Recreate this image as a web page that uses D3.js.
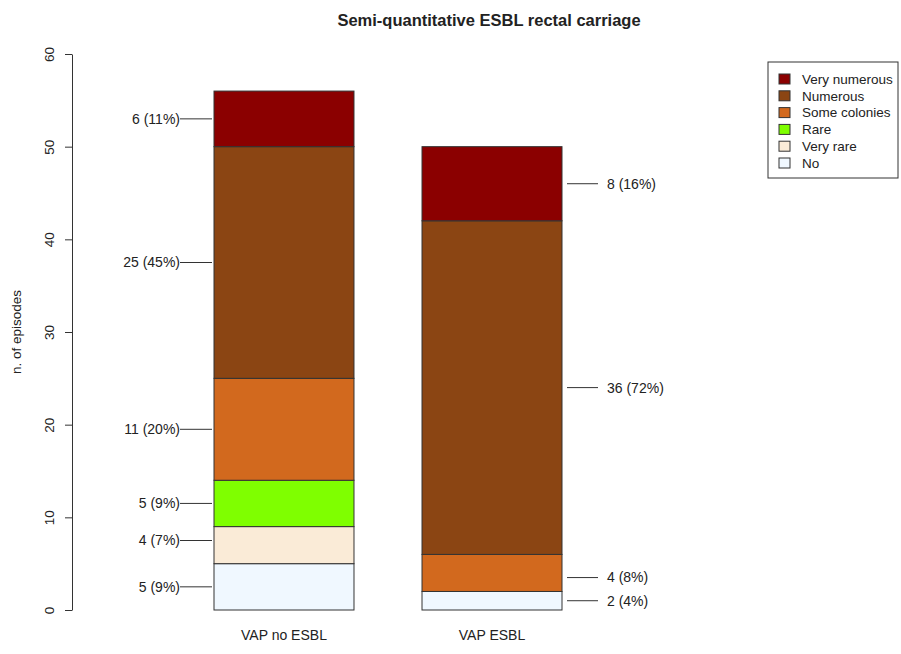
<!DOCTYPE html>
<html>
<head>
<meta charset="utf-8">
<script src="https://cdn.jsdelivr.net/npm/d3@7"></script>
<style>
  body { margin: 0; background: #fff; }
  svg text { font-family: "Liberation Sans", Arial, sans-serif; fill: #222; }
</style>
</head>
<body>
<div id="chart"></div>
<script>
// data
const groups = ["VAP no ESBL", "VAP ESBL"];
const levels = ["No", "Very rare", "Rare", "Some colonies", "Numerous", "Very numerous"];
const colors = ["#F0F8FF", "#FAEBD7", "#7FFF00", "#D2691E", "#8B4513", "#8B0000"];
const countsNoEsbl = [5, 4, 5, 11, 25, 6];
const countsEsbl = [2, 0, 0, 4, 36, 8];
const labelsNoEsbl = ["5 (9%)", "4 (7%)", "5 (9%)", "11 (20%)", "25 (45%)", "6 (11%)"];
const labelsEsbl = ["2 (4%)", "", "", "4 (8%)", "36 (72%)", "8 (16%)"];
// label anchor heights (n. of episodes), nudged where segments are thin
const labelAtNoEsbl = [2.5, 7.5, 11.5, 19.5, 37.5, 53];
const labelAtEsbl = [1, null, null, 3.5, 24, 46];
const yTicks = [0, 10, 20, 30, 40, 50, 60];

const W = 901, H = 654;
const svg = d3.select("#chart").append("svg").attr("width", W).attr("height", H);

const y = d3.scaleLinear().domain([0, 60]).range([610, 54]);
const x = d3.scaleBand().domain(groups).range([214, 562]).paddingInner(0.327).paddingOuter(0);

// title
svg.append("text")
    .attr("x", 489).attr("y", 26)
    .attr("text-anchor", "middle")
    .style("font-weight", "bold").style("font-size", "16.5px")
    .text("Semi-quantitative ESBL rectal carriage");

// y axis, R style
const yAxis = svg.append("g").attr("transform", "translate(72,0)")
    .call(d3.axisLeft(y).tickValues(yTicks).tickSize(7).tickSizeOuter(0).tickPadding(0));
yAxis.select(".domain").attr("stroke", "#333");
yAxis.selectAll(".tick line").attr("stroke", "#333");
yAxis.selectAll(".tick text").remove();
yAxis.selectAll(".tick").append("text")
    .attr("transform", "translate(-23,0) rotate(-90)")
    .attr("text-anchor", "middle")
    .attr("dy", "0.35em")
    .style("font-size", "13.5px")
    .text(d => d);

svg.append("text")
    .attr("transform", "translate(21,332) rotate(-90)")
    .attr("text-anchor", "middle")
    .style("font-size", "13.5px")
    .text("n. of episodes");

// stacked bars
const series = [countsNoEsbl, countsEsbl];
const labels = [labelsNoEsbl, labelsEsbl];
const labelAt = [labelAtNoEsbl, labelAtEsbl];

groups.forEach((g, gi) => {
    let base = 0;
    const segs = series[gi].map((v, i) => {
        const s = {y0: base, y1: base + v, color: colors[i], i: i};
        base += v;
        return s;
    }).filter(s => s.y1 > s.y0);

    svg.append("g").selectAll("rect")
        .data(segs)
        .join("rect")
        .attr("x", x(g))
        .attr("width", x.bandwidth())
        .attr("y", d => y(d.y1))
        .attr("height", d => y(d.y0) - y(d.y1))
        .attr("fill", d => d.color)
        .attr("stroke", "#333")
        .attr("stroke-width", 1);

    // value labels with leader lines
    const lab = svg.append("g");
    series[gi].forEach((v, i) => {
        if (!labels[gi][i]) return;
        const yy = y(labelAt[gi][i]);
        if (gi === 0) {
            const x1 = x(g) - 2;
            lab.append("line").attr("x1", x1 - 32).attr("x2", x1)
                .attr("y1", yy).attr("y2", yy).attr("stroke", "#333");
            lab.append("text").attr("x", x1 - 32).attr("y", yy).attr("dy", "0.35em")
                .attr("text-anchor", "end").style("font-size", "14px")
                .text(labels[gi][i]);
        } else {
            const x1 = x(g) + x.bandwidth() + 5;
            lab.append("line").attr("x1", x1).attr("x2", x1 + 31)
                .attr("y1", yy).attr("y2", yy).attr("stroke", "#333");
            lab.append("text").attr("x", x1 + 40).attr("y", yy).attr("dy", "0.35em")
                .attr("text-anchor", "start").style("font-size", "14px")
                .text(labels[gi][i]);
        }
    });

    svg.append("text")
        .attr("x", x(g) + x.bandwidth() / 2).attr("y", 640)
        .attr("text-anchor", "middle")
        .style("font-size", "14px")
        .text(g);
});

// legend
const legend = svg.append("g").attr("transform", "translate(768,62)");
legend.append("rect").attr("width", 130).attr("height", 116)
    .attr("fill", "#fff").attr("stroke", "#333");
const legItems = levels.map((l, i) => ({label: l, color: colors[i]})).reverse();
const li = legend.selectAll(".item").data(legItems).join("g")
    .attr("class", "item")
    .attr("transform", (d, i) => `translate(0,${17 + i * 16.8})`);
li.append("rect").attr("x", 11).attr("y", -5).attr("width", 11).attr("height", 10)
    .attr("fill", d => d.color).attr("stroke", "#333");
li.append("text").attr("x", 34).attr("dy", "0.35em")
    .style("font-size", "13.5px").text(d => d.label);
</script>
</body>
</html>
